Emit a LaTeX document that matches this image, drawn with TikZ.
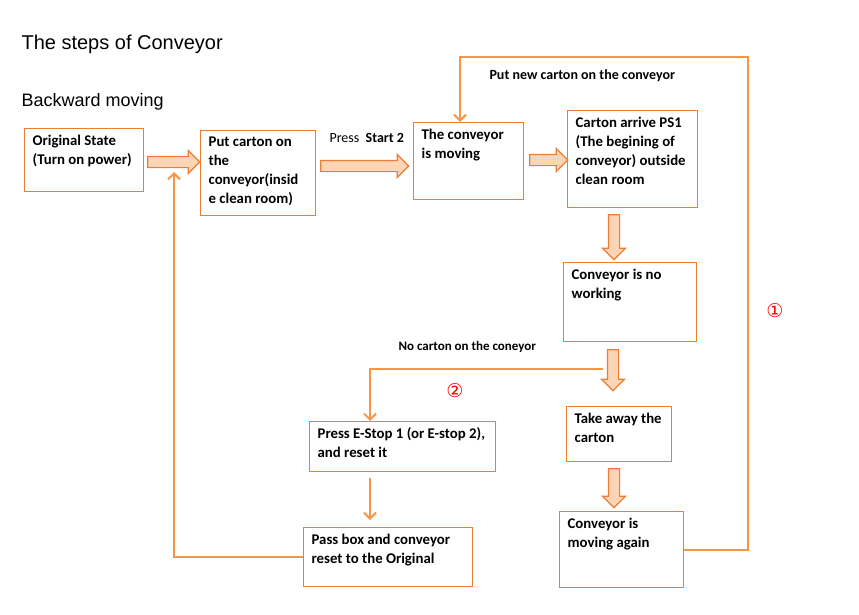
\documentclass[tikz,border=0pt]{standalone}
\usepackage{fontspec}
\setmainfont{Carlito}
\newfontfamily\headfont{Liberation Sans}
\newfontfamily\markfont{DejaVu Sans}
\usetikzlibrary{shapes.arrows,arrows.meta}
\definecolor{boxorange}{RGB}{237,125,49}
\definecolor{lineorange}{RGB}{247,150,70}
\definecolor{arrowfill}{RGB}{251,213,181}
\newcommand{\stagetext}[3]{\parbox[c][#1pt][t]{#2pt}{\raggedright #3}}

\begin{document}
\begin{tikzpicture}[x=1pt,y=-1pt,
 stage/.style={draw=boxorange, line width=1.3pt, anchor=north west, inner xsep=8pt, inner ysep=6pt,
  font=\fontsize{14.8}{19}\selectfont\bfseries},
 fat/.style={single arrow, draw=boxorange, fill=arrowfill, line width=1.2pt, inner sep=5pt,
  minimum width=22pt, single arrow head extend=6pt, single arrow head indent=0pt},
 link/.style={draw=lineorange, line width=2pt, -{Straight Barb[length=6pt,width=12pt]}},
 numlabel/.style={text=red, font=\markfont\fontsize{19}{19}\selectfont}]
\useasboundingbox (0,0) rectangle (859,615);

\node[anchor=west, font=\headfont\fontsize{20}{20}\selectfont] (title) at (18,44) {The steps of Conveyor};
\node[anchor=west, font=\headfont\fontsize{18}{18}\selectfont] (back) at (18,102) {Backward moving};

% boxes
\node[stage] (orig) at (24,128) {\stagetext{51}{103}{Original State\\(Turn on power)}};
\node[stage] (put) at (200,130) {\stagetext{73}{99}{Put carton on\\the\\conveyor(insid\\e clean room)}};
\node[stage] (moving) at (413,122) {\stagetext{65}{94}{The conveyor\\is moving}};
\node[stage] (arrive) at (567,110) {\stagetext{85}{114}{Carton arrive PS1\\(The begining of\\conveyor) outside\\clean room}};
\node[stage] (stop) at (563,262) {\stagetext{67}{117}{Conveyor is no\\working}};
\node[stage] (take) at (566,406) {\stagetext{43}{89}{Take away the\\carton}};
\node[stage] (again) at (559,511) {\stagetext{64}{108}{Conveyor is\\moving again}};
\node[stage] (estop) at (309,421) {\stagetext{38}{170}{Press E-Stop 1 (or E-stop 2),\\and reset it}};
\node[stage] (pass) at (303,527) {\stagetext{47}{153}{Pass box and conveyor\\reset to the Original}};

% fat arrows
\node[fat, minimum height=52pt] (f1) at (171,162) {};
\node[fat, minimum height=88pt] (f2) at (362,166) {};
\node[fat, minimum height=38pt] (f3) at (546,160) {};
\node[fat, minimum height=45pt, shape border rotate=270] (f4) at (614,234.5) {};
\node[fat, minimum height=41pt, shape border rotate=270] (f5) at (613,367.5) {};
\node[fat, minimum height=39pt, shape border rotate=270] (f6) at (614,485.5) {};

% thin links
\coordinate (rt) at (748,57);
\coordinate (mv) at (460,122);
\coordinate (nc) at (603,369);
\coordinate (es) at (370,421);
\coordinate (bk) at (174,172);
\draw[link] (again.east) -| (rt) -| (mv);
\draw[link] (nc) -| (es);
\draw[link, shorten <=6pt, shorten >=7pt] (estop.south -| es) -- (pass.north -| es);
\draw[link] (pass.west) -| (bk);

% labels
\node[anchor=west, font=\fontsize{14}{14}\selectfont] (press) at (326,138) {Press\ \ \textbf{Start 2}};
\node[anchor=west, font=\fontsize{14}{14}\selectfont\bfseries] (newc) at (486,76) {Put new carton on the conveyor};
\node[anchor=west, font=\fontsize{13}{13}\selectfont\bfseries] (noc) at (395,347) {No carton on the coneyor};
\node[numlabel] (n1) at (775,311) {①};
\node[numlabel] (n2) at (455,391) {②};
\end{tikzpicture}
\end{document}
